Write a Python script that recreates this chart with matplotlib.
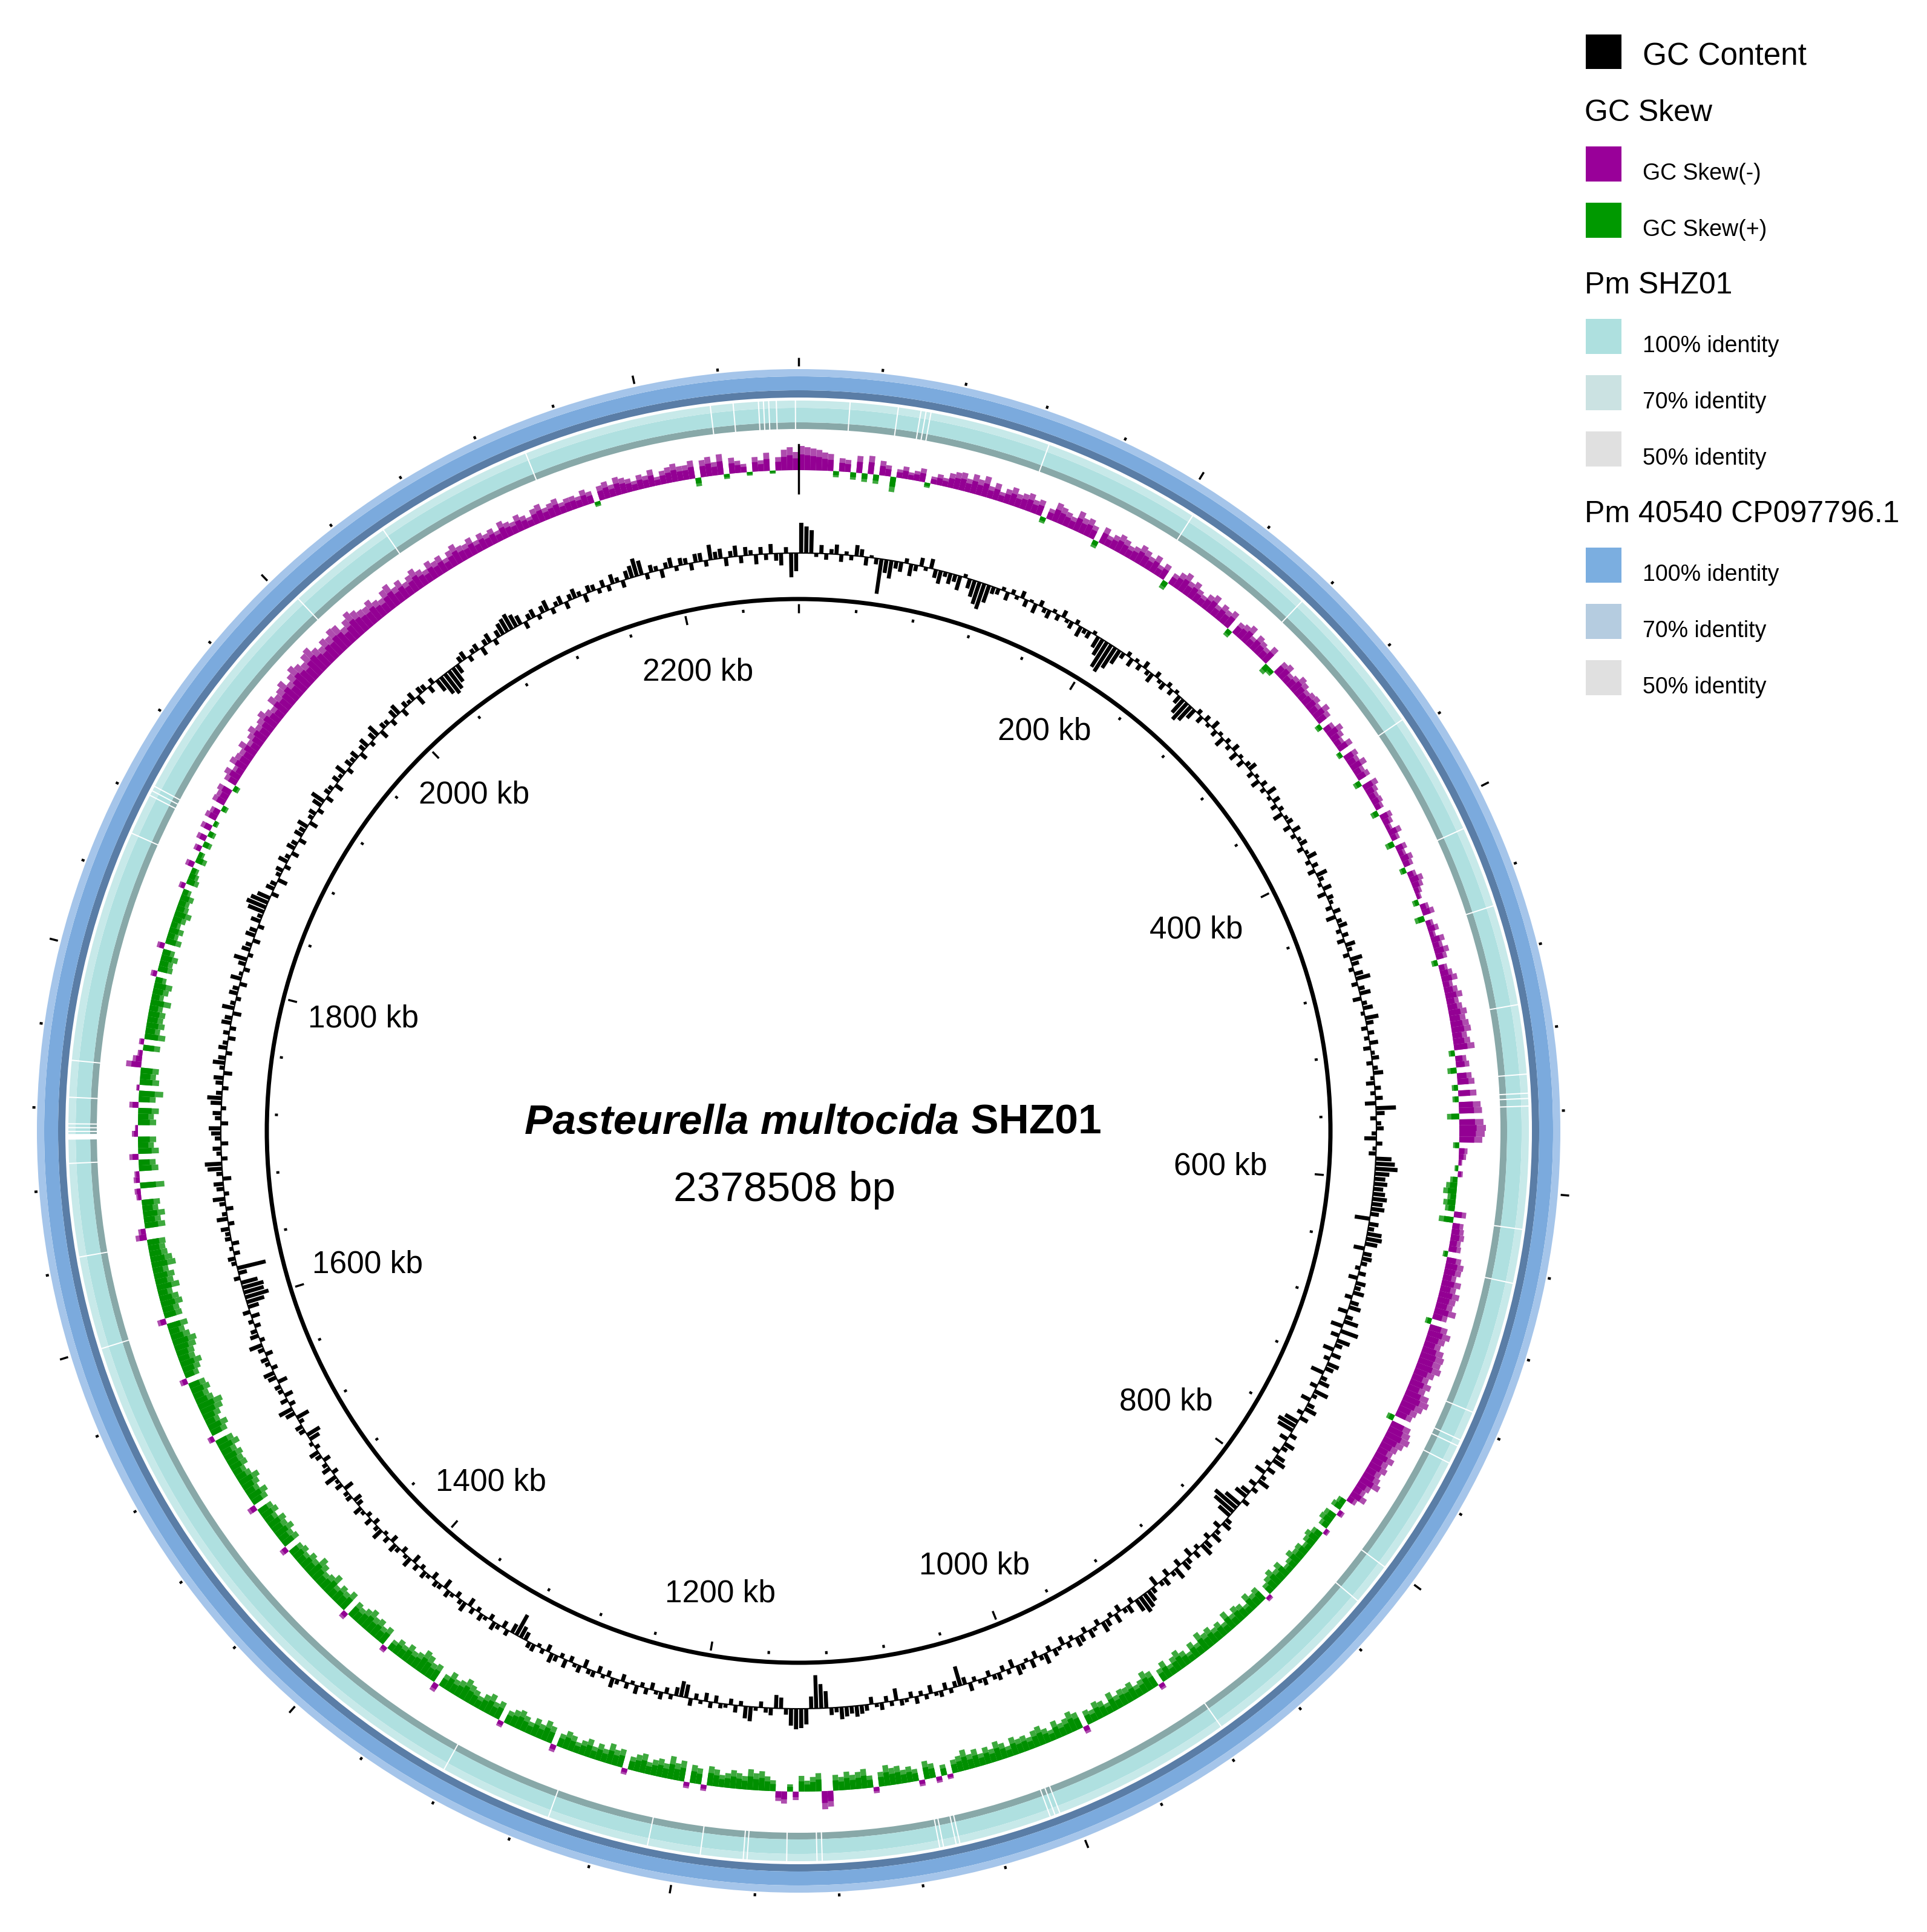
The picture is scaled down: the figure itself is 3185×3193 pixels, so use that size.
import numpy as np
import matplotlib.pyplot as plt
from matplotlib.patches import Wedge, Rectangle, Circle
from matplotlib.collections import PatchCollection, LineCollection

plt.rcParams['font.family'] = ['Liberation Sans', 'DejaVu Sans']

# ---------------- data ----------------
genome_len_kb = 2278.5          # ruler length used by the map
title_species = "Pasteurella multocida"
title_strain = " SHZ01"
size_label = "2378508 bp"

ruler_major_kb = list(range(0, 2201, 200))
ruler_minor_kb = list(range(0, 2279, 40))
ruler_labels = [f"{k} kb" for k in ruler_major_kb if k > 0]

# GC content deviation, 720 windows round the genome (px, + outward)
gc_content = [
    50, 44, 38, -6, 14, -10, 8, 16, -12, 6, -8, 18, 12, -14, 4, -10, -58, -22, -30, -12,
    -16, 8, -20, -10, 14, -6, 16, -14, -22, -8, -18, -12, -24, 6, -16, -28, -38, -44, -30, -12,
    -10, 6, -14, 8, -6, 12, -12, 4, -16, 10, -8, -14, 6, -10, 12, -6, -12, 8, -18, -8,
    -12, 6, -20, -30, -48, -52, -40, -26, -10, 8, -14, 6, -10, 12, -8, -16, 10, -6, -12, 8,
    -10, 6, -14, -28, -36, -30, -18, 8, -12, 10, -6, 14, -10, 6, -16, 8, -8, 12, -14, 6,
    -12, 8, 14, -10, 6, -14, 10, -8, 16, -6, 12, -10, 8, -16, 6, 10, -12, 14, -8, 6,
    12, -10, 6, 16, -8, 10, -12, 18, 8, -6, 14, -14, 10, 6, -10, 12, -16, 8, 14, -8,
    10, -12, 16, 8, -10, 20, 12, -8, 14, 24, -10, 10, 18, -14, 8, 16, -6, 22, 12, -10,
    10, -8, 14, -12, 6, 12, -10, 8, 16, -6, -14, 10, -8, 12, -18, 33, 14, -10, 8, 12,
    -8, -20, 10, -6, -12, 26, 32, 37, 24, 18, 22, 16, 20, 24, 18, 22, 14, -25, 16, 10,
    24, 26, 20, -18, 14, 16, 10, -8, 12, -15, 16, 10, 18, -12, 14, 20, -16, 12, 24, -20,
    30, -14, 22, 12, -18, 16, -10, 20, 14, -22, 10, 18, -12, 24, 8, -16, 12, 20, -10, 14,
    -24, -32, -28, 12, -14, 18, 10, -12, 16, 22, -10, 14, -18, 8, 20, -12, 10, -16, -22, 12,
    -30, -46, -40, -24, 10, 16, -12, 8, 18, -10, 14, 22, -8, 12, -14, 10, 16, -12, 20, 8,
    -12, 14, 8, -16, 10, 20, 26, 30, 22, -10, 14, 8, -12, 16, -8, 12, 18, -10, 6, 14,
    -10, 12, 16, -8, 10, -14, 6, 12, -10, 18, 8, -12, 14, -6, 10, 16, -14, 8, -10, 12,
    8, -10, 12, 6, -8, 14, -12, -33, -10, 8, -12, 10, 6, -14, 8, -8, 12, -10, 6, 10,
    -20, 8, -10, 12, 6, -12, 10, 14, 18, 12, 16, 20, 8, 12, -28, -40, -55, -20, 26, 32,
    34, 28, 10, -18, -22, 12, 8, -10, 6, 24, 20, -8, 12, -10, 6, 8, -12, 10, -14, 6,
    -10, 12, -22, -26, -14, 8, -10, 12, 6, -12, 10, -8, 14, -6, 10, -12, 8, 16, -10, 6,
    -12, 10, 8, -14, 12, 6, -10, 14, -8, 10, 16, -12, 8, -6, 12, 10, -14, -20, -38, -16,
    10, -12, 8, 14, -10, 6, 12, -8, 10, -14, 16, 8, -10, 6, 12, -16, 8, 10, -12, 6,
    12, -8, 10, -14, 16, 6, -10, 8, 14, -12, 10, -6, 18, 8, -10, 12, -8, 6, 14, -10,
    -14, 10, 8, -16, 12, 6, 20, -10, 14, 8, -12, 10, 16, -8, 6, -18, -24, 10, 12, -8,
    -22, 16, 24, -10, 12, -14, 8, 10, -16, 14, 18, -10, 8, 12, -12, 10, 22, -8, 14, 10,
    -10, 8, -14, 12, -18, -30, -40, -34, -36, -28, 10, -14, -48, 8, 12, -10, 6, -12, 10, 8,
    14, -10, 18, 8, -12, 10, 20, -8, 12, 16, -14, 10, 24, 28, -10, 8, 14, -12, 10, 16,
    20, -12, 10, 14, -8, 18, 24, 10, -10, 12, 16, -14, 8, 20, 12, -10, 14, 8, -12, 10,
    -10, 16, 12, -14, 20, 8, -8, 14, 10, -12, 18, 6, -10, 12, 22, -8, 14, 10, -12, 16,
    12, -10, 16, 8, 28, 34, 30, 22, -12, 14, 10, -16, 8, 12, -10, 16, 8, -12, 14, 10,
    -12, 14, 10, 18, -14, 8, 12, -10, 16, 24, -12, 10, 8, -14, 12, 6, 18, -10, 12, 8,
    14, -12, 10, 16, -8, 12, 20, -14, 10, 8, -10, 14, 18, -12, 10, 6, 14, -16, 12, 10,
    -12, 10, -22, -34, -40, -36, -28, -16, 10, 14, -10, 8, 12, -14, 10, 16, -10, 12, 20, 24,
    28, 22, 16, -12, 10, 14, -8, 12, 18, -10, 8, 14, -12, 10, 16, 8, -14, 12, 10, -8,
    12, -10, 16, 8, -12, 14, 20, 30, 24, -10, 12, 8, -14, 10, 16, -8, 12, 10, -12, 14,
    14, -10, 25, 12, 16, -14, 10, 18, -12, 14, 8, -16, 12, -10, 16, -12, -20, 10, -40, -30,
]

# GC skew, 720 windows (px, + = skew(-) purple outward, - = skew(+) green inward)
gc_skew = [
    40, 38, 36, 34, 30, 28, -10, 22, 20, -12, 28, -14, 30, -15, 24, 18, -25, 14, 20, 12,
    16, 22, -8, 12, 18, 14, 24, 28, 30, 22, 32, 26, 34, 20, 28, 16, 24, 30, 22, 26,
    30, 22, 26, -10, 18, 32, 28, 24, 20, 34, 26, 30, 22, -12, 28, 18, 24, 30, 26, 20,
    24, 32, 28, 22, 30, 18, 26, -14, 20, 28, 34, 24, 30, 22, 18, 26, 32, 20, 28, 24,
    30, -12, 22, 26, 32, 18, 28, 24, 20, 30, -16, -10, 24, 28, 18, 22, 30, 26, 20, 24,
    26, 20, 30, 24, -10, 18, 28, 22, 16, 26, -8, 24, 20, 28, 18, 22, -12, 26, 20, 16,
    18, 14, -12, 20, 16, 10, 22, 14, -14, 18, 12, 20, 16, -10, 14, 22, 18, 12, 8, -10,
    14, 20, -16, 12, 18, 10, 22, 16, 24, 18, -10, 14, 20, 26, 16, 22, 28, 20, 24, 30,
    26, 30, 32, 24, 28, 34, -10, 18, 22, -15, 24, 28, -10, 30, -10, 36, 38, -20, 40, 44,
    42, 38, -10, 14, 12, 6, -6, 8, -12, -18, -22, -14, -20, -16, 20, -24, 18, 20, 22, 18,
    20, -8, 24, 30, 28, 22, 32, 26, 34, 30, 28, 36, 24, -10, 30, 38, 32, 28, 36, 40,
    38, 42, 34, 28, 36, 30, 40, 44, 38, 32, 28, -12, 34, 38, 42, 36, 30, 26, 34, 28,
    32, 26, 30, 36, 24, 20, 28, 16, -14, -18, 10, -20, -22, -16, 8, -18, -24, -20, -14, -22,
    -20, -26, -18, -14, -28, -22, -30, -24, -18, 8, -26, -22, -30, -16, -24, -28, -20, -32, -18, -26,
    -22, -30, -26, -34, -20, -28, -16, -24, -32, -26, -18, -30, -22, 10, -28, -34, -24, -20, -30, -26,
    -28, -22, -32, -18, -26, -30, -20, -24, 12, -28, -34, -26, -22, -30, -18, -24, -32, -28, -20, -26,
    -24, -30, -18, -26, -32, -22, -28, -20, -30, -24, -34, -26, -22, 8, -18, 10, -24, -30, 10, -20,
    -26, -22, -30, -28, -34, -24, 10, -20, -32, -28, -24, -30, -22, -26, 26, 30, -30, -24, -18, -26,
    14, -12, 20, 16, -18, -24, -32, -28, -34, -22, -26, -30, -24, -20, -28, -32, 10, -26, -30, 10,
    -34, -28, -38, -24, -30, -26, -20, -32, -28, -22, 10, -30, -26, -34, -22, -28, -20, -30, -24, -18,
    -26, -30, -22, 12, -28, -34, -24, -30, -20, -26, -32, -28, -22, 10, -30, -24, -34, -28, -20, -26,
    -30, -36, -28, -24, -32, -22, 14, -30, -26, -34, -38, -28, -24, -30, -22, -26, -18, 10, -30, -24,
    -32, -28, -36, -30, -24, -28, 12, -34, -26, -30, -22, -36, -28, -24, -32, -38, -26, -30, -22, -28,
    -24, 12, -30, -26, -34, -28, -32, -22, -30, -26, 14, -28, -34, -24, -30, -36, -26, -22, -30, -28,
    -32, -26, -36, -30, 10, -28, -34, -24, -30, -38, -42, -30, -26, -32, -28, 12, -24, -30, -36, -28,
    -30, -36, -40, -32, -26, -34, 14, -30, -28, -36, -32, -24, -38, -30, -34, -26, -40, -36, -30, -28,
    -30, 18, 12, -34, -28, -36, -26, -30, 8, 10, -40, 10, 8, -32, -28, 15, -34, -26, -30, 10,
    5, -30, -26, -34, 15, -28, -40, 5, -32, -26, -30, 25, 15, 8, -28, 8, -34, -24, -30, -26,
    -28, -22, -34, -20, -26, -30, -18, 10, -24, -22, -28, -20, 12, -26, -18, -24, -16, -22, -28, -20,
    -18, -22, -14, 10, -20, -16, -12, 14, -18, -10, 12, -14, 16, -12, 18, -8, 20, 16, -10, 22,
    20, 24, -10, 22, 28, 18, 30, 26, 24, 32, 22, 28, 34, 26, 30, 36, 28, 24, 38, 32,
    36, 42, 30, 38, 46, 40, 34, 44, 48, 38, 32, 40, 36, 44, 42, 30, 38, 46, 40, 34,
    32, 38, 30, 26, 36, 40, 28, 34, 24, 30, 36, 28, 22, 32, 26, 30, 20, 28, 34, 26,
    24, 30, 20, 28, 22, 26, 18, 30, 24, 20, 28, 22, 16, 26, 30, 20, 24, 28, 18, 22,
    22, 18, 26, 20, -8, 24, 28, 20, 30, 26, 22, 16, 24, 20, 28, 14, 22, 26, 30, 24,
    24, 30, -14, 28, 32, 22, 34, -8, 26, 20, 14, -6, 24, 18, 30, -5, 22, 34, 38, 30,
]

# breaks in the Pm SHZ01 identity ring (kb) and their lengths (kb)
teal_gap_kb = [25.3, 49.4, 60.8, 63.3, 65.8, 126.6, 206.3, 275.3, 352.5, 414.6,
               455.7, 506.3, 541.1, 550.6, 553.2, 557.0, 618.4, 645.6, 712.7, 727.8,
               731.0, 740.5, 801.3, 822.8, 915.2, 1006.3, 1008.9, 1011.4, 1058.2, 1060.1,
               1066.5, 1068.4, 1127.2, 1129.8, 1144.9, 1164.6, 1166.5, 1188.0, 1214.6, 1265.8,
               1322.8, 1598.8, 1645.6, 1692.4, 1704.5, 1708.3, 1710.2, 1712.1, 1725.3, 1743.7,
               1860.8, 1881.7, 1884.2, 1886.7, 2004.5, 2058.9, 2139.3, 2234.2, 2245.6, 2258.2,
               2260.7, 2263.3, 2267.1, 2276.6]
teal_gap_len_kb = [0.6] * 44 + [2.8] + [0.6] * 19

legend_rows = [
    ("box", "GC Content", "#000000"),
    ("head", "GC Skew", None),
    ("item", "GC Skew(-)", "#990099"),
    ("item", "GC Skew(+)", "#009900"),
    ("head", "Pm SHZ01", None),
    ("item", "100% identity", "#AEE0DF"),
    ("item", "70% identity", "#CBE2E2"),
    ("item", "50% identity", "#E0E0E0"),
    ("head", "Pm 40540 CP097796.1", None),
    ("item", "100% identity", "#7BAEE0"),
    ("item", "70% identity", "#B5CCE0"),
    ("item", "50% identity", "#E0E0E0"),
]

# ---------------- figure ----------------
W, H = 3185, 3193
fig = plt.figure(figsize=(W / 100, H / 100), dpi=100)
ax = fig.add_axes([0, 0, 1, 1])
ax.set_xlim(0, W)
ax.set_ylim(H, 0)
ax.axis('off')

cx, cy = 1320, 1869


def ang(kb):
    return kb / genome_len_kb * 360.0


def pt(r, a):
    t = np.deg2rad(a)
    return cx + r * np.sin(t), cy - r * np.cos(t)


def arc(r_in, r_out, a0, a1, color):
    return Wedge((cx, cy), r_out, a0 - 90, a1 - 90, width=r_out - r_in,
                 facecolor=color, edgecolor='none', linewidth=0)


# identity rings (three-tone bands)
rings = [
    arc(1160, 1171, 0, 360, '#88A8A8'),
    arc(1171, 1195, 0, 360, '#AFE0E0'),
    arc(1195, 1207, 0, 360, '#C7E9E9'),
    arc(1212, 1224, 0, 360, '#5A7DA6'),
    arc(1224, 1247, 0, 360, '#7BAADD'),
    arc(1247, 1259, 0, 360, '#A5C5EA'),
]
ax.add_collection(PatchCollection(rings, match_original=True))

gaps = [arc(1158, 1209, ang(k), ang(k + w), 'white') for k, w in zip(teal_gap_kb, teal_gap_len_kb)]
ax.add_collection(PatchCollection(gaps, match_original=True))

# GC skew: darker body, lighter tip
step = 360.0 / len(gc_skew)
bars = []
for i, v in enumerate(gc_skew):
    a0, a1 = i * step, (i + 1) * step
    if v > 0:
        bars.append(arc(1092, 1092 + v, a0, a1, '#AE4CAE'))
        bars.append(arc(1092, 1092 + 0.65 * v, a0, a1, '#930093'))
    elif v < 0:
        bars.append(arc(1092 + v, 1092, a0, a1, '#3DA93D'))
        bars.append(arc(1092 + 0.65 * v, 1092, a0, a1, '#008F00'))
ax.add_collection(PatchCollection(bars, match_original=True))

# GC content (narrow spikes)
step = 360.0 / len(gc_content)
bars = []
for i, v in enumerate(gc_content):
    a0, a1 = i * step + 0.1 * step, (i + 1) * step - 0.1 * step
    lo, hi = (955, 955 + v) if v > 0 else (955 + v, 955)
    bars.append(arc(lo, hi, a0, a1, '#000000'))
ax.add_collection(PatchCollection(bars, match_original=True))
ax.add_patch(Circle((cx, cy), 955, fill=False, lw=1.5, edgecolor='black'))

# start line across the skew ring
ax.plot(*zip(pt(1054, 0), pt(1134, 0)), color='black', lw=2.5)

# backbone circle
ax.add_patch(Circle((cx, cy), 879, fill=False, lw=5, edgecolor='black'))

# ruler ticks (inner and outer)
major = [ang(k) for k in ruler_major_kb]
minor = [ang(k) for k in ruler_minor_kb if k not in ruler_major_kb]
segs = [[pt(856, a), pt(871, a)] for a in major] + [[pt(1264, a), pt(1278, a)] for a in major]
ax.add_collection(LineCollection(segs, colors='black', linewidths=2.5))
segs = [[pt(861, a), pt(866, a)] for a in minor] + [[pt(1262, a), pt(1267, a)] for a in minor]
ax.add_collection(LineCollection(segs, colors='black', linewidths=3))

for k, lab in zip([k for k in ruler_major_kb if k > 0], ruler_labels):
    a = ang(k)
    s = np.sin(np.deg2rad(a))
    shrink = (78 if s > 0 else 40) * abs(s) ** 6
    ax.text(*pt(776 - shrink, a), lab, fontsize=37, ha='center', va='center')

# centre title
renderer = fig.canvas.get_renderer()
t1 = ax.text(0, 0, title_species, fontsize=50, fontweight='bold', fontstyle='italic')
t2 = ax.text(0, 0, title_strain, fontsize=50, fontweight='bold')
w1 = t1.get_window_extent(renderer).width
w2 = t2.get_window_extent(renderer).width
x0 = 1344 - (w1 + w2) / 2
t1.set_position((x0, 1873))
t2.set_position((x0 + w1, 1873))
ax.text(1297, 1985, size_label, fontsize=50, ha='center', va='baseline')

# legend
sw_x, sw_w, sw_h = 2621, 59, 58
y, last = 57, None
for kind, lab, col in legend_rows:
    if kind == "box":
        ax.add_patch(Rectangle((sw_x, y), sw_w, 57, facecolor=col, edgecolor='none'))
        ax.text(2715, y + 51, lab, fontsize=37, va='baseline')
    elif kind == "head":
        y = y + (143 if last == "box" else 150)
        ax.text(2619, y, lab, fontsize=36, va='baseline')
    else:
        y = y + (42 if last == "head" else 93)
        ax.add_patch(Rectangle((sw_x, y), sw_w, sw_h, facecolor=col, edgecolor='none'))
        ax.text(2715, y + 55, lab, fontsize=27, va='baseline')
    last = kind

fig.savefig('out.png', dpi=100, facecolor='white')
